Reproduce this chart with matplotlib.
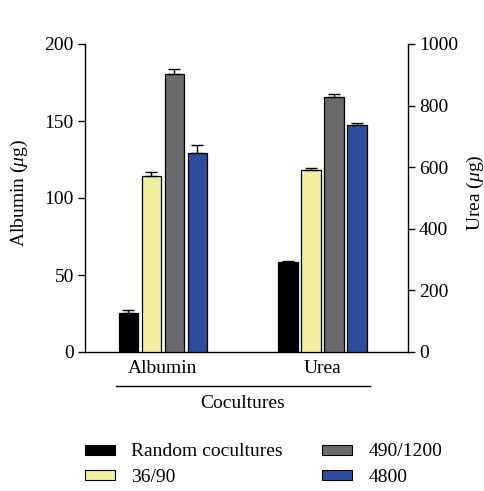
import matplotlib
matplotlib.use("Agg")
import matplotlib.pyplot as plt
import numpy as np
from matplotlib.patches import Patch

plt.rcParams['font.family'] = ['Liberation Serif', 'DejaVu Serif']
plt.rcParams['mathtext.fontset'] = 'custom'
plt.rcParams['mathtext.it'] = 'Liberation Serif:italic'
plt.rcParams['mathtext.rm'] = 'Liberation Serif'

groups = ["Albumin", "Urea"]
series = ["Random cocultures", "36/90", "490/1200", "4800"]
colors = ["#000000", "#f1f0a2", "#6b6b6b", "#2e4c9e"]
albumin_vals = [25.5, 114, 180.5, 129]
albumin_err = [1.5, 3, 3.5, 5.5]
urea_vals = [292, 590, 828, 737]
urea_err = [5, 6, 9, 6]

FS = 14

fig = plt.figure(figsize=(4.85, 4.91), dpi=100)
ax = fig.add_axes([85/485, 1-352/491, (408-85)/485, (352-44)/491])
ax2 = ax.twinx()

slot = 1.0
width = 0.85
offsets = (np.arange(4) - 1.5) * slot
centers = [0.0, 6.93]

for i in range(4):
    ax.bar(centers[0] + offsets[i], albumin_vals[i], width=width, color=colors[i],
           edgecolor='black', linewidth=0.9,
           yerr=[[0], [albumin_err[i]]], capsize=4.5,
           error_kw=dict(elinewidth=1, capthick=1, ecolor='black'), zorder=3)
    ax2.bar(centers[1] + offsets[i], urea_vals[i], width=width, color=colors[i],
            edgecolor='black', linewidth=0.9,
            yerr=[[0], [urea_err[i]]], capsize=4.5,
            error_kw=dict(elinewidth=1, capthick=1, ecolor='black'), zorder=3)

xl = (-3.39, 10.65)
ax.set_xlim(*xl)
ax2.set_xlim(*xl)
ax.set_ylim(0, 200)
ax2.set_ylim(0, 1000)
ax.set_yticks([0, 50, 100, 150, 200])
ax2.set_yticks([0, 200, 400, 600, 800, 1000])

for a in (ax, ax2):
    a.spines['top'].set_visible(False)
    for s in a.spines.values():
        s.set_linewidth(1.0)
    a.tick_params(axis='y', length=5, width=1, labelsize=FS, direction='out', pad=3)
ax.spines['right'].set_visible(False)
ax2.spines['left'].set_visible(False)
ax2.spines['bottom'].set_visible(False)

ax.set_xticks(centers)
ax.set_xticklabels(groups, fontsize=FS)
ax.tick_params(axis='x', length=0, pad=6)

fig.text(19/485, 1-193/491, r"Albumin ($\mu$g)", rotation=90, ha='center', va='center', fontsize=FS)
fig.text(475/485, 1-193/491, r"Urea ($\mu$g)", rotation=90, ha='center', va='center', fontsize=FS)

# Cocultures bracket
trans = ax.get_xaxis_transform()
y_line = -(386-352)/308
ax.plot([(116-163)/23, (370-163)/23], [y_line, y_line], color='black', lw=1.0,
        transform=trans, clip_on=False)
ax.text((243-163)/23, -(404-352)/308, "Cocultures", transform=trans,
        ha='center', va='center', fontsize=FS)

handles = [Patch(facecolor=c, edgecolor='black', linewidth=0.8) for c in colors]
leg = fig.legend(handles, series, loc='upper left', bbox_to_anchor=(67/485, 1-426/491),
                 ncol=2, frameon=False, fontsize=FS, handlelength=1.55, handleheight=0.42,
                 columnspacing=2.0, handletextpad=0.85, labelspacing=0.45)

fig.savefig("out.png", dpi=100)
